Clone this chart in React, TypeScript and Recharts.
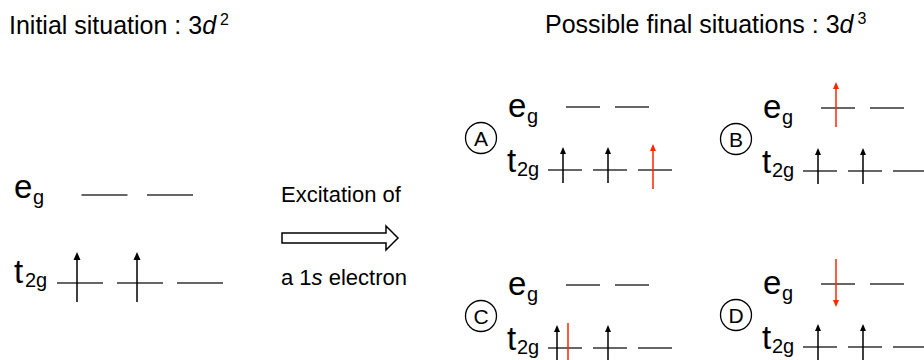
import React from 'react';
import { ComposedChart, XAxis, YAxis, ReferenceLine, ReferenceDot, Scatter } from 'recharts';

const W = 924;
const H = 360;
const FONT = '"Liberation Sans", Arial, Helvetica, sans-serif';
const INK = '#000000';
const LEVEL_INK = '#333333';
const EXCITED = '#ff2600';

// ---- text content ----
const initialTitle = 'Initial situation : 3';
const finalTitle = 'Possible final situations : 3';
const orbitalLetter = 'd';
const initialCount = '2';
const finalCount = '3';
const excitationTop = 'Excitation of';
const excitationBottom = ['a 1', 's', ' electron'];
const panelLabels = ['A', 'B', 'C', 'D'];

// ---- occupancy data ----
type Level = 't2g' | 'eg';
type Electron = { level: Level; orbital: number; spin: 'up' | 'down'; excited: boolean };

const t2gOrbitals = [0, 1, 2];
const egOrbitals = [0, 1];

const initialElectrons: Electron[] = [
  { level: 't2g', orbital: 0, spin: 'up', excited: false },
  { level: 't2g', orbital: 1, spin: 'up', excited: false },
];

const finalA: Electron[] = [
  { level: 't2g', orbital: 0, spin: 'up', excited: false },
  { level: 't2g', orbital: 1, spin: 'up', excited: false },
  { level: 't2g', orbital: 2, spin: 'up', excited: true },
];
const finalB: Electron[] = [
  { level: 't2g', orbital: 0, spin: 'up', excited: false },
  { level: 't2g', orbital: 1, spin: 'up', excited: false },
  { level: 'eg', orbital: 0, spin: 'up', excited: true },
];
const finalC: Electron[] = [
  { level: 't2g', orbital: 0, spin: 'up', excited: false },
  { level: 't2g', orbital: 0, spin: 'down', excited: true },
  { level: 't2g', orbital: 1, spin: 'up', excited: false },
];
const finalD: Electron[] = [
  { level: 't2g', orbital: 0, spin: 'up', excited: false },
  { level: 't2g', orbital: 1, spin: 'up', excited: false },
  { level: 'eg', orbital: 0, spin: 'down', excited: true },
];
const finalStates = [finalA, finalB, finalC, finalD];

// ---- diagram layout (diagram units) ----
type Layout = {
  t2gX: number[]; egX: number[]; t2gY: number; egY: number; half: number;
  upTip: number; upTail: number; arrowDx: number; head: number; headHalf: number;
  eLabel: [number, number]; tLabel: [number, number];
  eSub: [number, number]; tSub: [number, number];
};

const initialLayout: Layout = {
  t2gX: [80, 140, 200], egX: [104.5, 170], t2gY: 283, egY: 195, half: 23,
  upTip: -31, upTail: 19, arrowDx: -3, head: 8, headHalf: 3.5,
  eLabel: [14, 198], tLabel: [14, 283], eSub: [19, 6], tSub: [11, 4],
};

const panelOrigins: [number, number][] = [[565, 170], [820, 171], [565, 348], [820, 347]];

const panelLayout = (ox: number, oy: number): Layout => ({
  t2gX: [ox, ox + 45, ox + 90], egX: [ox + 18, ox + 67], t2gY: oy, egY: oy - 63, half: 17,
  upTip: -23, upTail: 13, arrowDx: -2, head: 7, headHalf: 3,
  eLabel: [ox - 57, oy - 53], tLabel: [ox - 58, oy + 2], eSub: [19, 6], tSub: [10, 4],
});

const bigArrow = { x1: 282, x2: 398, y: 238, shaftHalf: 5, headHalf: 12, headLen: 12 };

// ---- shapes ----
const levelShape = (p: any) => (
  <line x1={p.x1} y1={p.y1} x2={p.x2} y2={p.y2} stroke={LEVEL_INK} strokeWidth={1.5} />
);

const arrowShape = (color: string, headLen: number, headHalf: number) => (p: any) => {
  const { x1, y1, x2, y2 } = p;
  const dir = y2 > y1 ? 1 : -1;
  const baseY = y2 - dir * headLen;
  return (
    <g>
      <line x1={x1} y1={y1} x2={x2} y2={baseY} stroke={color} strokeWidth={1.5} />
      <polygon points={`${x2},${y2} ${x2 - headHalf},${baseY} ${x2 + headHalf},${baseY}`} fill={color} />
    </g>
  );
};

const hollowArrowShape = (p: any) => {
  const { x1, y1, x2 } = p;
  const { shaftHalf: s, headHalf: h, headLen: l } = bigArrow;
  const bx = x2 - l;
  const pts = [
    [x1, y1 - s], [bx, y1 - s], [bx, y1 - h], [x2, y1], [bx, y1 + h], [bx, y1 + s], [x1, y1 + s],
  ].map((q) => q.join(',')).join(' ');
  return <polygon points={pts} fill="#fff" stroke={INK} strokeWidth={1.5} strokeLinejoin="miter" />;
};

const levelLabel = (main: string, sub: string, sub2: [number, number]) => (p: any) => (
  <text x={p.cx} y={p.cy} fontFamily={FONT} fontSize={33} fill={INK}>
    {main}
    <tspan x={p.cx + sub2[0]} y={p.cy + sub2[1]} fontSize={20}>{sub}</tspan>
  </text>
);

const titleShape = (text: string, sup: string) => (p: any) => (
  <text x={p.cx} y={p.cy} fontFamily={FONT} fontSize={25} fill={INK}>
    {text}
    <tspan fontStyle="italic">{orbitalLetter}</tspan>
    <tspan dx={4} dy={-9} fontSize={16}>{sup}</tspan>
  </text>
);

const plainText = (parts: string[], italicIndex: number) => (p: any) => (
  <text x={p.cx} y={p.cy} fontFamily={FONT} fontSize={22} fill={INK}>
    {parts.map((t, i) => (
      <tspan key={i} fontStyle={i === italicIndex ? 'italic' : 'normal'}>{t}</tspan>
    ))}
  </text>
);

const circleLabel = (letter: string) => (p: any) => (
  <g>
    <circle cx={p.cx} cy={p.cy} r={15.5} fill="none" stroke={INK} strokeWidth={1.3} />
    <text x={p.cx} y={p.cy + 7.5} textAnchor="middle" fontFamily={FONT} fontSize={21} fill={INK}>{letter}</text>
  </g>
);

function renderDiagram(layout: Layout, electrons: Electron[], key: string) {
  const els: React.ReactNode[] = [];
  t2gOrbitals.forEach((i) => {
    const cx = layout.t2gX[i];
    els.push(
      <ReferenceLine key={`${key}-t${i}`} ifOverflow="visible"
        segment={[{ x: cx - layout.half, y: layout.t2gY }, { x: cx + layout.half, y: layout.t2gY }]}
        shape={levelShape} />
    );
  });
  egOrbitals.forEach((i) => {
    const cx = layout.egX[i];
    els.push(
      <ReferenceLine key={`${key}-e${i}`} ifOverflow="visible"
        segment={[{ x: cx - layout.half, y: layout.egY }, { x: cx + layout.half, y: layout.egY }]}
        shape={levelShape} />
    );
  });
  electrons.forEach((el, j) => {
    const centers = el.level === 't2g' ? layout.t2gX : layout.egX;
    const ly = el.level === 't2g' ? layout.t2gY : layout.egY;
    const paired = electrons.filter((o) => o.level === el.level && o.orbital === el.orbital).length > 1;
    let x = centers[el.orbital] + layout.arrowDx;
    if (paired) x = centers[el.orbital] + (el.spin === 'up' ? -8 : 3);
    let tip: number; let tail: number;
    if (el.excited) {
      if (el.spin === 'up') { tip = ly - 26; tail = ly + 19; } else { tail = ly - 25; tip = ly + 23; }
    } else {
      tip = ly + layout.upTip; tail = ly + layout.upTail;
    }
    const color = el.excited ? EXCITED : INK;
    els.push(
      <ReferenceLine key={`${key}-a${j}`} ifOverflow="visible"
        segment={[{ x, y: tail }, { x, y: tip }]}
        shape={arrowShape(color, layout.head, layout.headHalf)} />
    );
  });
  els.push(
    <ReferenceDot key={`${key}-le`} x={layout.eLabel[0]} y={layout.eLabel[1]} r={1} ifOverflow="visible"
      shape={levelLabel('e', 'g', layout.eSub)} />,
    <ReferenceDot key={`${key}-lt`} x={layout.tLabel[0]} y={layout.tLabel[1]} r={1} ifOverflow="visible"
      shape={levelLabel('t', '2g', layout.tSub)} />
  );
  return els;
}

const anchorPoints = [{ x: 0, y: 0 }, { x: W, y: H }];

export default function App() {
  return (
    <div style={{ position: 'absolute', left: 0, top: 0, width: W, height: H, background: '#fff' }}>
      <ComposedChart width={W} height={H} margin={{ top: 0, right: 0, bottom: 0, left: 0 }}>
        <XAxis type="number" dataKey="x" domain={[0, W]} hide allowDataOverflow />
        <YAxis type="number" dataKey="y" domain={[0, H]} reversed hide allowDataOverflow />
        <Scatter data={anchorPoints} isAnimationActive={false} shape={() => <g />} />

        <ReferenceDot x={9} y={34} r={1} ifOverflow="visible" shape={titleShape(initialTitle, initialCount)} />
        <ReferenceDot x={545} y={33} r={1} ifOverflow="visible" shape={titleShape(finalTitle, finalCount)} />

        {renderDiagram(initialLayout, initialElectrons, 'init')}

        <ReferenceDot x={281} y={202} r={1} ifOverflow="visible" shape={plainText([excitationTop], -1)} />
        <ReferenceLine ifOverflow="visible"
          segment={[{ x: bigArrow.x1, y: bigArrow.y }, { x: bigArrow.x2, y: bigArrow.y }]}
          shape={hollowArrowShape} />
        <ReferenceDot x={281} y={285} r={1} ifOverflow="visible" shape={plainText(excitationBottom, 1)} />

        {finalStates.map((st, k) => {
          const [ox, oy] = panelOrigins[k];
          return [
            ...renderDiagram(panelLayout(ox, oy), st, `p${k}`),
            <ReferenceDot key={`c${k}`} x={ox - 84} y={oy - 32} r={15} ifOverflow="visible"
              shape={circleLabel(panelLabels[k])} />,
          ];
        })}
      </ComposedChart>
    </div>
  );
}
